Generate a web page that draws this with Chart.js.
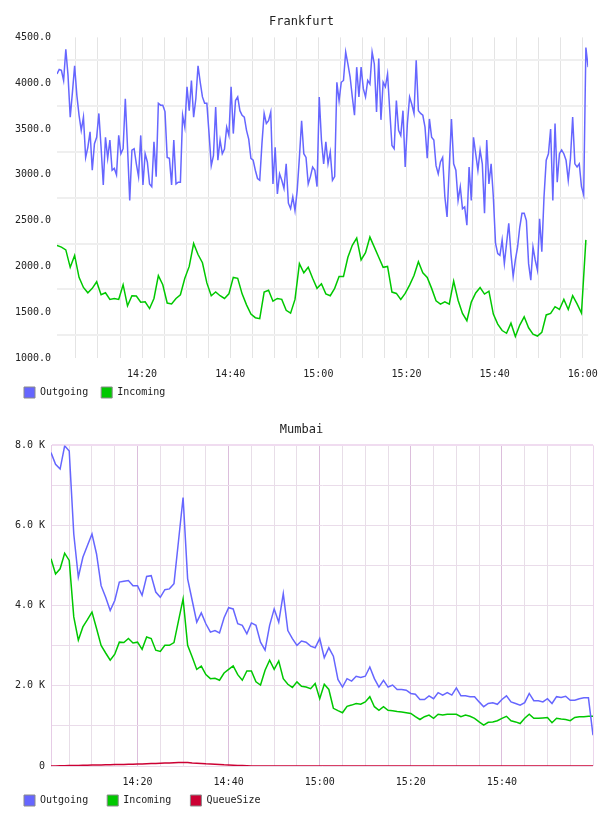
<!DOCTYPE html>
<html>
<head>
<meta charset="utf-8">
<script src="https://cdn.jsdelivr.net/npm/chart.js@4.4.0/dist/chart.umd.min.js"></script>
<style>
body { margin: 0; background: #fff; }
.box { position: relative; width: 608px; height: 408px; }
</style>
</head>
<body>
<div class="box"><canvas id="fra"></canvas></div>
<div class="box"><canvas id="mum"></canvas></div>
<script>
// Frankfurt: outgoing every 30 s, incoming every minute
var fraStart = '14:00:42';
var fraEnd = '16:01:12';
var fraOutgoingStep = 30;
var fraIncomingStep = 60;
var fraOutgoing = [
    4100,4150,4140,4030,4370,4085,3630,3900,4190,3870,
    3650,3485,3630,3190,3300,3470,3050,3340,3410,3670,
    3300,2890,3410,3180,3380,3050,3070,3000,3430,3230,
    3285,3830,3300,2720,3270,3285,3120,2980,3430,2890,
    3230,3140,2900,2870,3360,2980,3780,3760,3760,3690,
    3190,3180,2890,3380,2900,2920,2920,3650,3520,3960,
    3700,4030,3630,3830,4190,4010,3850,3780,3780,3450,
    3100,3210,3740,3160,3380,3230,3280,3520,3430,3960,
    3450,3810,3850,
    3700,3650,3630,3485,3390,3180,3160,3050,2960,2940,
    3340,3670,3560,3590,3685,2900,3300,2790,3010,2940,
    2850,3120,2690,2630,2760,2610,2830,3190,3590,3230,
    3190,2900,2980,3085,3050,2870,3850,3380,3120,3360,
    3120,3250,2940,2980,4010,3810,4010,4030,4340,4210,
    4070,3850,3650,4175,3850,4175,3940,3850,4030,3990,
    4340,4210,3685,4270,3600,4010,3960,4100,3700,3320,
    3285,3810,3485,3430,3700,3085,3560,3850,3770,3670,
    4250,3700,3670,3650,3520,3180,3610,3410,3380,3100,
    3010,3140,3190,2760,2540,3085,3610,3120,3050,2720,
    2870,2630,2650,2450,3085,2720,3410,3230,3050,3270,
    3120,2580,3380,2900,3120,2760,2250,2140,2120,2290,
    2030,2250,2470,2140,1890,2070,2210,2430,2580,2580,
    2500,2030,1850,2210,2070,1960,2520,2160,2760,3160,
    3230,3500,2720,3560,2920,3230,3270,3230,3160,2940,
    3180,3630,3120,3085,3120,2870,2780,4390,4175
];
var fraIncoming = [
    2230,2210,2180,1990,2120,1880,1770,1712,1760,1832,
    1690,1712,1640,1650,1640,1800,1570,1680,1676,1610,
    1614,1540,1650,1900,1800,1600,1590,1650,1690,1870,
    2000,2250,2130,2040,1820,1680,1720,1680,1650,1700,
    1880,1870,1700,1580,1480,1440,1430,1720,1740,1620,
    1650,1640,1520,1490,1640,2030,1930,1990,1870,1760,
    1810,1700,1680,1760,1890,1890,2100,2230,2310,2070,
    2150,2320,2210,2100,1990,2000,1720,1705,1640,1705,
    1796,1900,2050,1930,1880,1760,1624,1589,1614,1589,
    1840,1630,1487,1407,1610,1710,1770,1698,1730,1480,
    1370,1300,1270,1380,1235,1360,1450,1330,1260,1240,
    1280,1470,1487,1560,1530,1640,1530,1680,1590,1490,
    2290
];
var fraTicks = [1000, 1500, 2000, 2500, 3000, 3500, 4000, 4500];

// Mumbai: one sample per minute
var mumStart = '14:01:00';
var mumEnd = '16:00:00';
var mumStep = 60;
var mumOutgoing = [
    7820,7530,7410,7990,7860,5790,4710,5210,5500,5790,
    5290,4500,4210,3880,4130,4590,4610,4630,4500,4500,
    4260,4730,4750,4340,4210,4400,4420,4550,5620,6700,
    4670,4130,3590,3820,3550,3340,3380,3320,3700,3950,
    3920,3550,3510,3300,3570,3510,3090,2890,3510,3920,
    3590,4300,3380,3180,3010,3120,3090,2990,2950,3180,
    2700,2950,2740,2160,1970,2180,2120,2240,2210,2240,
    2470,2180,1970,2140,1970,2020,1910,1910,1890,1810,
    1790,1660,1660,1750,1680,1830,1770,1830,1770,1950,
    1750,1750,1730,1730,1600,1480,1560,1580,1540,1660,
    1750,1600,1560,1520,1580,1810,1630,1630,1600,1680,
    1560,1730,1710,1740,1640,1640,1680,1700,1700,770
];
var mumIncoming = [
    5170,4790,4920,5310,5130,3720,3140,3470,3650,3840,
    3430,3010,2820,2640,2790,3090,3080,3180,3070,3090,
    2910,3220,3180,2890,2860,3010,3010,3080,3630,4170,
    3010,2720,2410,2490,2280,2180,2190,2140,2320,2410,
    2500,2280,2140,2370,2370,2100,2020,2390,2640,2410,
    2620,2180,2040,1960,2100,1990,1970,1930,2060,1680,
    2040,1910,1440,1380,1330,1490,1520,1560,1540,1600,
    1730,1480,1390,1480,1390,1380,1360,1350,1330,1310,
    1230,1160,1230,1270,1190,1290,1270,1290,1290,1290,
    1230,1270,1240,1190,1100,1020,1090,1100,1130,1190,
    1240,1130,1100,1060,1190,1290,1190,1190,1200,1210,
    1080,1190,1170,1160,1130,1210,1230,1230,1240,1240
];
var mumQueue = [
    0,2,5,8,10,12,15,18,20,22,
    25,28,30,32,35,38,40,42,45,48,
    50,55,60,65,70,72,75,80,85,90,
    85,75,70,65,55,50,45,40,30,25,
    20,15,10,5,2,0,0,0,0,0,
    0,0,0,0,0,0,0,0,0,0,
    0,0,0,0,0,0,0,0,0,0,
    0,0,0,0,0,0,0,0,0,0,
    0,0,0,0,0,0,0,0,0,0,
    0,0,0,0,0,0,0,0,0,0,
    0,0,0,0,0,0,0,0,0,0,
    0,0,0,0,0,0,0,0,0,0
];
var mumTicks = [0, 2000, 4000, 6000, 8000];

var colOut = '#6666ff';
var colIn = '#00c800';
var colQueue = '#cc0033';

Chart.defaults.font.family = 'DejaVu Sans Mono';
Chart.defaults.font.size = 10;
Chart.defaults.color = '#222';

// minutes after 14:00
function minutesOf(hms) {
    var p = hms.split(':');
    return (Number(p[0]) - 14) * 60 + Number(p[1]) + Number(p[2] || 0) / 60;
}
function clock(m) {
    var h = 14 + Math.floor(m / 60);
    var mm = Math.round(m % 60);
    return h + ':' + (mm < 10 ? '0' : '') + mm;
}
function series(start, stepSec, values) {
    var t0 = minutesOf(start);
    return values.map(function (v, i) {
        return { x: t0 + i * stepSec / 60, y: v };
    });
}
function line(label, color, data) {
    return {
        label: label, data: data,
        borderColor: color, backgroundColor: color,
        borderWidth: 1.5, pointRadius: 0, tension: 0, fill: false
    };
}

// legend entries sit in equal columns, as wide as the longest name
function legendLabels(chart) {
    var items = Chart.defaults.plugins.legend.labels.generateLabels(chart);
    var longest = 0;
    items.forEach(function (it) { longest = Math.max(longest, it.text.length); });
    items.forEach(function (it) {
        it.text = it.text + ' '.repeat(longest - it.text.length + 1);
        it.strokeStyle = '#8a8a8a';
        it.lineWidth = 1;
    });
    return items;
}

// move the legend a little to the right of the axis labels
var legendNudge = {
    id: 'legendNudge',
    afterLayout: function (chart) {
        chart.legend.left += 7;
        chart.legend.right += 7;
    }
};

function baseOptions(title, xMin, xMax) {
    return {
        responsive: true,
        maintainAspectRatio: false,
        animation: false,
        layout: { padding: { left: 10, right: 15, top: 0, bottom: 0 } },
        plugins: {
            title: { display: true, text: title, color: '#222',
                font: { size: 12, weight: 'normal' }, padding: { top: 15, bottom: 8 } },
            legend: { position: 'bottom', align: 'start',
                labels: { boxWidth: 11, boxHeight: 11, padding: 7, generateLabels: legendLabels } },
            tooltip: { enabled: false }
        },
        scales: {
            x: {
                type: 'linear', min: xMin, max: xMax,
                border: { display: false },
                grid: { color: '#e4e4e4', lineWidth: 1, drawTicks: false },
                ticks: { stepSize: 5, includeBounds: false, autoSkip: false,
                    maxRotation: 0, minRotation: 0, padding: 10,
                    callback: function (v) { return v % 20 === 0 ? clock(v) : ''; } },
                afterFit: function (s) { s.height = 22; }
            }
        }
    };
}

// Frankfurt
var fraOpts = baseOptions('Frankfurt', minutesOf(fraStart), minutesOf(fraEnd));
fraOpts.scales.y = {
    min: fraTicks[0], max: fraTicks[fraTicks.length - 1],
    border: { display: false },
    grid: { offset: true, color: '#efefef', lineWidth: 2, drawTicks: false },
    ticks: { stepSize: fraTicks[1] - fraTicks[0], padding: 6,
        callback: function (v) { return v.toFixed(1); } },
    afterFit: function (s) { s.width = 47; }
};
new Chart(document.getElementById('fra'), {
    type: 'line',
    data: {
        datasets: [
            line('Outgoing', colOut, series(fraStart, fraOutgoingStep, fraOutgoing)),
            line('Incoming', colIn, series(fraStart, fraIncomingStep, fraIncoming))
        ]
    },
    options: fraOpts,
    plugins: [legendNudge]
});

// Mumbai
var mumOpts = baseOptions('Mumbai', minutesOf(mumStart), minutesOf(mumEnd));
mumOpts.scales.x.grid.color = function (c) {
    if (!c.tick) return '#e8dce8';
    if (c.tick.value >= 120) return '#ecd6ec';
    return c.tick.value % 20 === 0 ? '#dcbedc' : '#e8dee8';
};
mumOpts.scales.x.ticks.callback = function (v) {
    return v % 20 === 0 && v < 120 ? clock(v) : '';
};
mumOpts.scales.y = {
    min: mumTicks[0], max: mumTicks[mumTicks.length - 1],
    border: { display: true, color: '#e6cce6', width: 1 },
    grid: { drawTicks: false,
        color: function (c) { return c.tick && c.tick.value === 8000 ? '#f0dcf0' : '#eadcea'; },
        lineWidth: function (c) { return c.tick && c.tick.value === 8000 ? 2 : 1; } },
    ticks: { stepSize: 1000, padding: 6,
        callback: function (v) {
            if (v === 0) return '0';
            return mumTicks.indexOf(v) >= 0 ? (v / 1000).toFixed(1) + ' K' : '';
        } },
    afterFit: function (s) { s.width = 41; }
};
new Chart(document.getElementById('mum'), {
    type: 'line',
    data: {
        datasets: [
            line('Outgoing', colOut, series(mumStart, mumStep, mumOutgoing)),
            line('Incoming', colIn, series(mumStart, mumStep, mumIncoming)),
            line('QueueSize', colQueue, series(mumStart, mumStep, mumQueue))
        ]
    },
    options: mumOpts,
    plugins: [legendNudge]
});
</script>
</body>
</html>
